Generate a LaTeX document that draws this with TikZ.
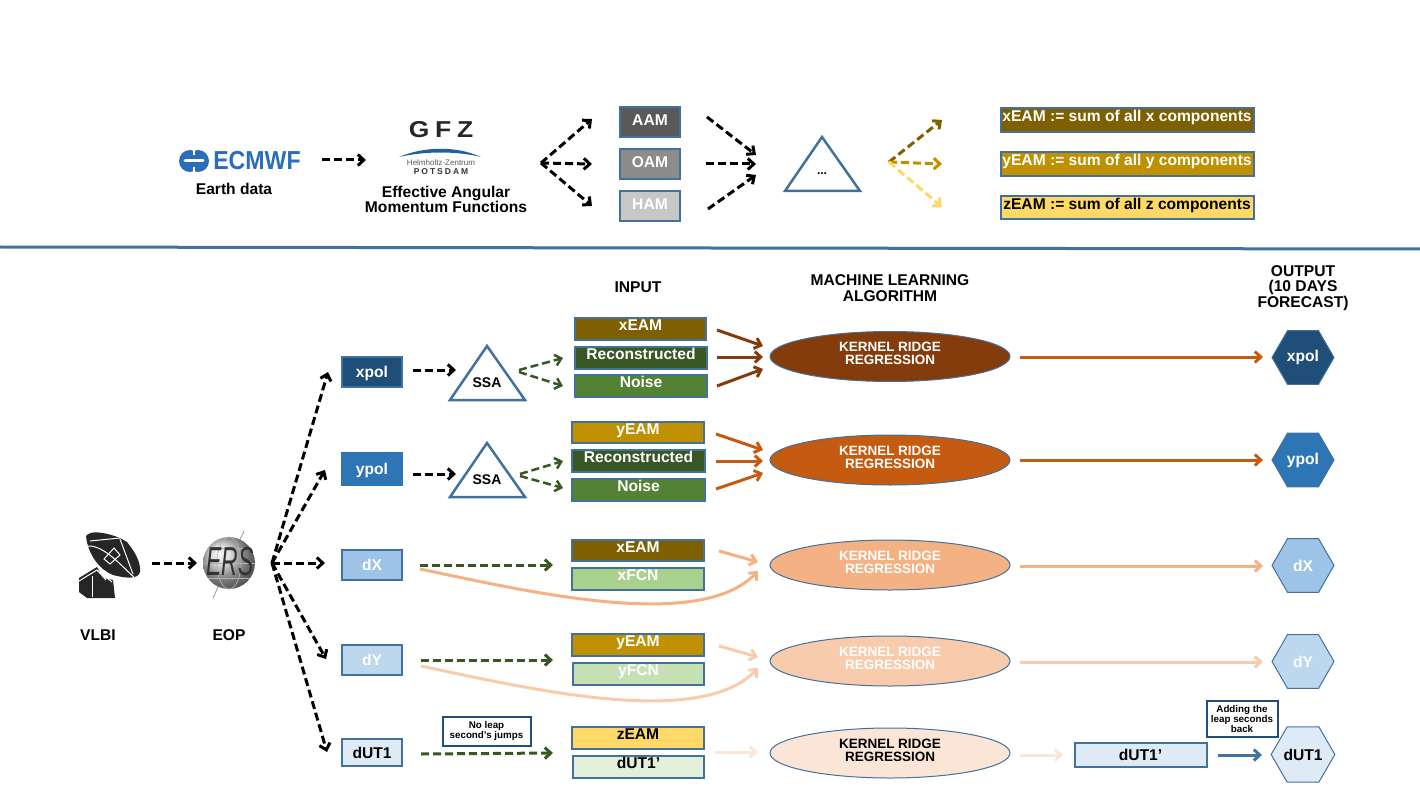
\documentclass[tikz,border=0pt]{standalone}
\usepackage{fontspec}
\setmainfont{Liberation Sans}
\usetikzlibrary{arrows.meta,shapes.geometric}
\definecolor{blueline}{HTML}{41719C}
\definecolor{navy}{HTML}{1F4E79}
\definecolor{midblue}{HTML}{2E75B6}
\definecolor{softblue}{HTML}{9DC3E6}
\definecolor{paleblue}{HTML}{BDD7EE}
\definecolor{iceblue}{HTML}{DEEBF7}
\definecolor{ambdark}{HTML}{7F6000}
\definecolor{ambmid}{HTML}{BF9000}
\definecolor{amblight}{HTML}{FFD966}
\definecolor{grndark}{HTML}{385723}
\definecolor{grnmid}{HTML}{548235}
\definecolor{grnsoft}{HTML}{A9D18E}
\definecolor{grnpale}{HTML}{C5E0B4}
\definecolor{grnice}{HTML}{E2F0D9}
\definecolor{rust}{HTML}{843C0C}
\definecolor{orng}{HTML}{C55A11}
\definecolor{orngsoft}{HTML}{F4B183}
\definecolor{orngpale}{HTML}{F8CBAD}
\definecolor{orngice}{HTML}{FBE5D6}
\definecolor{logoblue}{HTML}{2A6EBB}
\tikzset{
  txt/.style={font=\fontsize{15.6}{15.5}\selectfont\bfseries,align=center,inner sep=0pt},
  smalltxt/.style={font=\fontsize{9.8}{10}\selectfont\bfseries,align=center,inner sep=0pt},
  box/.style={draw=blueline,line width=2pt,rectangle,outer sep=0pt,inner sep=0pt,txt,text=white,text height=11pt,text depth=0pt},
  rbox/.style={box,text height=11pt,text depth=8pt},
  mbox/.style={box,text height=11pt,text depth=4pt},
  note/.style={draw=navy,fill=white,line width=2pt,rectangle,outer sep=0pt,smalltxt},
  krr/.style={ellipse,draw=blueline,line width=1pt,minimum width=240pt,minimum height=50pt,inner sep=0pt,
    font=\fontsize{13.5}{13}\selectfont\bfseries,align=center,text=white,text depth=5.5pt},
  hex/.style={regular polygon,regular polygon sides=6,draw=blueline,line width=1pt,minimum size=62pt,inner sep=0pt,txt,text=white},
  tri/.style={draw=blueline,line width=2.5pt,line join=miter},
  dasharrow/.style={line width=3pt,dash pattern=on 8pt off 4pt,-{Straight Barb[length=6pt,width=11pt]}},
  solidarrow/.style={line width=3pt,-{Straight Barb[length=6pt,width=11pt]}},
}
\begin{document}
\begin{tikzpicture}[x=1pt,y=-1pt]
      \useasboundingbox (0,0) rectangle (1420,799);
      % top row: logos
      \fill [logoblue] (190,161) circle [radius=11];
      \fill [logoblue] (198,161) circle [radius=11];
      \draw [white,line width=2pt] (194,149)--(194,155);
      \draw [white,line width=2pt] (194,167)--(194,173);
      \draw [white,line width=3pt,line cap=round] (185,161)--(203,161);
      \node (ecmwf) at (257,161) [font=\fontsize{26}{26}\selectfont\bfseries,text=logoblue,inner sep=0pt,xscale=0.89] {ECMWF};
      \node (earth) at (234,189) [txt] {Earth data};
      \node (gfz) at (441,130) [font=\fontsize{23}{23}\selectfont\bfseries,text=black!85,inner sep=0pt,xscale=1.15] {G\hspace{5pt}F\hspace{5pt}Z};
      \fill [logoblue!85!black] (399,157) .. controls (425,146) and (457,146) .. (481,157) .. controls (457,151) and (425,151) .. (399,157) -- cycle;
      \node (helm) at (441,163) [font=\fontsize{8}{8}\selectfont,text=black!65,inner sep=0pt] {Helmholtz-Zentrum};
      \node (pots) at (441,172) [font=\fontsize{8.5}{8}\selectfont\bfseries,text=black!80,inner sep=0pt] {P\hspace{2pt}O\hspace{2pt}T\hspace{2pt}S\hspace{2pt}D\hspace{2pt}A\hspace{2pt}M};
      \node (eam) at (446,199.5) [txt] {Effective Angular\\Momentum Functions};
      \coordinate (ecout) at (322,160);
      \coordinate (gfzin) at (366,160);
      \draw [dasharrow](ecout)--(gfzin);
      % top row: components
      \node (aam) at (650,122) [mbox,fill=black!65,minimum width=60.5pt,minimum height=30.5pt] {AAM};
      \node (oam) at (650,164) [mbox,fill=black!45,minimum width=60.5pt,minimum height=30.5pt] {OAM};
      \node (ham) at (650,206) [mbox,fill=black!22,minimum width=60.5pt,minimum height=30.5pt] {HAM};
      \coordinate (fan) at (541,163);
      \coordinate (aamin) at (592,119);
      \coordinate (oamin) at (592,164);
      \coordinate (hamin) at (592,206);
      \draw [dasharrow](fan)--(aamin);
      \draw [dasharrow](fan)--(oamin);
      \draw [dasharrow](fan)--(hamin);
      \coordinate (aamout) at (707,117);
      \coordinate (oamout) at (706,164);
      \coordinate (hamout) at (708,209);
      \coordinate (sumup) at (756,155);
      \coordinate (summid) at (756,164);
      \coordinate (sumlow) at (756,175);
      \draw [dasharrow](aamout)--(sumup);
      \draw [dasharrow](oamout)--(summid);
      \draw [dasharrow](hamout)--(sumlow);
      \node (sum) at (822,174) [font=\fontsize{12}{12}\selectfont\bfseries,inner sep=0pt] {...};
      \draw [tri] (822,137)--(785,191)--(860,191)--cycle;
      \coordinate (sumout) at (889,162);
      \coordinate (xin) at (942,120);
      \coordinate (yin) at (942,164);
      \coordinate (zin) at (942,207);
      \draw [dasharrow,ambdark](sumout)--(xin);
      \draw [dasharrow,ambmid](sumout)--(yin);
      \draw [dasharrow,amblight](sumout)--(zin);
      \node (xsum) at (1127,120.5) [rbox,fill=ambdark,minimum width=253pt,minimum height=24pt] {xEAM := sum of all x components};
      \node (ysum) at (1127,164.5) [rbox,fill=ambmid,minimum width=253pt,minimum height=24pt] {yEAM := sum of all y components};
      \node (zsum) at (1127,208) [rbox,fill=amblight,text=black,minimum width=253pt,minimum height=23pt] {zEAM := sum of all z components};
      \coordinate (sepleft) at (0,247);
      \coordinate (sepright) at (1420,249);
      \draw [blueline,line width=3pt](sepleft)--(sepright);
      % headers
      \node (input) at (638,287) [txt] {INPUT};
      \node (ml) at (890,288) [txt] {MACHINE LEARNING\\ALGORITHM};
      \node (output) at (1303,288) [txt] {OUTPUT\\(10 DAYS\\FORECAST)};
      % VLBI dish
      \fill [black!85] (86,536) .. controls (90,530) and (105,532) .. (120,538) -- (127,542) .. controls (135,552) and (141,562) .. (140,572) .. controls (138,580) and (125,578) .. (113,575) .. controls (100,570) and (88,555) .. (86,536) -- cycle;
      \fill [black!85] (79,578)--(97,567)--(104,578)--(113,580)--(115,598)--(87,598)--(79,592)--cycle;
      \draw [white,line width=1pt] (88,546) .. controls (105,545) and (125,570) .. (134,577);
      \draw [white,line width=1pt] (90,541)--(120,538);
      \draw [white,line width=1pt] (120,539)--(133,574);
      \draw [white,line width=1pt] (104,559)--(114,548)--(120,555)--(110,564)--cycle;
      \draw [white,line width=1pt] (79,581)--(97,570)--(112,582);
      \draw [white,line width=1pt] (92,597)--(92,576);
      \draw [white,line width=1pt] (97,570)--(106,580);
      \node (vlbi) at (98,635) [txt] {VLBI};
      % EOP globe
      \coordinate (axtop) at (244,531);
      \coordinate (axlow) at (213,598);
      \draw [black!35,line width=1pt](axtop)--(axlow);
      \shade [ball color=black!18] (229,563) circle [radius=26];
      \draw [black!30,line width=0.7pt] (229,563) ellipse [x radius=12,y radius=26];
      \draw [black!30,line width=0.7pt] (203,563)--(255,563);
      \draw [black!30,line width=0.7pt] (208,548)--(250,548);
      \draw [black!30,line width=0.7pt] (208,578)--(250,578);
      \node (ers) at (230,562) [font=\fontsize{27}{27}\selectfont\itshape,text=black!80,inner sep=0pt,xscale=0.85,yscale=1.5] {ERS};
      \node (eop) at (229,635) [txt] {EOP};
      \coordinate (vlbiout) at (152,563);
      \coordinate (eopin) at (197,563);
      \draw [dasharrow](vlbiout)--(eopin);
      % series
      \node (xpol) at (372,372) [box,fill=navy,minimum width=60.5pt,minimum height=30.5pt] {xpol};
      \node (ypol) at (372,469) [box,fill=midblue,draw=midblue,minimum width=60.5pt,minimum height=32.5pt] {ypol};
      \node (dx) at (372,565) [box,fill=softblue,minimum width=60.5pt,minimum height=30.5pt] {dX};
      \node (dy) at (372,660) [box,fill=paleblue,minimum width=60.5pt,minimum height=30.5pt] {dY};
      \node (dut) at (372,752.5) [box,fill=iceblue,text=black,minimum width=60.5pt,minimum height=27.5pt] {dUT1};
      \coordinate (eopout) at (272,563);
      \coordinate (xpolin) at (328,372);
      \coordinate (ypolin) at (325,470);
      \coordinate (dxin) at (325,563);
      \coordinate (dyin) at (326,659);
      \coordinate (dutin) at (327,752);
      \draw [dasharrow](eopout)--(xpolin);
      \draw [dasharrow](eopout)--(ypolin);
      \draw [dasharrow](eopout)--(dxin);
      \draw [dasharrow](eopout)--(dyin);
      \draw [dasharrow](eopout)--(dutin);
      % SSA
      \node (ssa1) at (487,383) [txt,font=\fontsize{14}{14}\selectfont\bfseries] {SSA};
      \draw [tri] (487,346)--(450,400)--(525,400)--cycle;
      \node (ssa2) at (487,480) [txt,font=\fontsize{14}{14}\selectfont\bfseries] {SSA};
      \draw [tri] (487,443)--(450,497)--(525,497)--cycle;
      \coordinate (xpolout) at (413,370);
      \coordinate (ssa1in) at (456,370);
      \coordinate (ypolout) at (413,474);
      \coordinate (ssa2in) at (456,474);
      \draw [dasharrow](xpolout)--(ssa1in);
      \draw [dasharrow](ypolout)--(ssa2in);
      \coordinate (ssa1up) at (519,370);
      \coordinate (ssa1lo) at (519,372);
      \coordinate (rec1in) at (563,358);
      \coordinate (noi1in) at (563,386);
      \coordinate (ssa2up) at (520,474);
      \coordinate (ssa2lo) at (520,476);
      \coordinate (rec2in) at (563,461);
      \coordinate (noi2in) at (563,488);
      \draw [dasharrow,grndark,line width=2.5pt](ssa1up)--(rec1in);
      \draw [dasharrow,grndark,line width=2.5pt](ssa1lo)--(noi1in);
      \draw [dasharrow,grndark,line width=2.5pt](ssa2up)--(rec2in);
      \draw [dasharrow,grndark,line width=2.5pt](ssa2lo)--(noi2in);
      % inputs
      \node (xeam1) at (640.5,329) [rbox,fill=ambdark,minimum width=131.5pt,minimum height=22.5pt] {xEAM};
      \node (rec1) at (641,358) [rbox,fill=grndark,minimum width=132.5pt,minimum height=22.5pt] {Reconstructed};
      \node (noi1) at (641,386) [rbox,fill=grnmid,minimum width=132.5pt,minimum height=22.5pt] {Noise};
      \node (yeam1) at (638,432.5) [rbox,fill=ambmid,minimum width=131.5pt,minimum height=21.5pt] {yEAM};
      \node (rec2) at (638.5,461) [rbox,fill=grndark,minimum width=132.5pt,minimum height=22.5pt] {Reconstructed};
      \node (noi2) at (638.5,490) [rbox,fill=grnmid,minimum width=132.5pt,minimum height=22.5pt] {Noise};
      \node (xeam2) at (638,550.5) [rbox,fill=ambdark,minimum width=131.5pt,minimum height=21.5pt] {xEAM};
      \node (xfcn) at (638,579) [rbox,fill=grnsoft,minimum width=131.5pt,minimum height=22.5pt] {xFCN};
      \node (yeam2) at (638,645) [rbox,fill=ambmid,minimum width=131.5pt,minimum height=22.5pt] {yEAM};
      \node (yfcn) at (638.5,674) [rbox,fill=grnpale,minimum width=131.5pt,minimum height=22.5pt] {yFCN};
      \node (zeam) at (638,738) [rbox,fill=amblight,text=black,minimum width=131.5pt,minimum height=22.5pt] {zEAM};
      \node (dutp) at (638.5,767) [rbox,fill=grnice,text=black,minimum width=131.5pt,minimum height=22.5pt] {dUT1'};
      \coordinate (dxout) at (420,565);
      \coordinate (xeamin) at (553,565);
      \coordinate (dyout) at (421,660);
      \coordinate (yeamin) at (553,660);
      \coordinate (dutout) at (421,754);
      \coordinate (zeamin) at (553,753);
      \draw [dasharrow,grndark](dxout)--(xeamin);
      \draw [dasharrow,grndark](dyout)--(yeamin);
      \draw [dasharrow,grndark](dutout)--(zeamin);
      \node (noleap) at (486.5,731) [note,minimum width=88pt,minimum height=29pt] {No leap\\second's jumps};
      % kernel ridge regression
      \node (krr1) at (890,356.5) [krr,fill=rust] {KERNEL RIDGE\\REGRESSION};
      \node (krr2) at (890,460) [krr,fill=orng] {KERNEL RIDGE\\REGRESSION};
      \node (krr3) at (890,565) [krr,fill=orngsoft] {KERNEL RIDGE\\REGRESSION};
      \node (krr4) at (890,661) [krr,fill=orngpale] {KERNEL RIDGE\\REGRESSION};
      \node (krr5) at (890,753) [krr,fill=orngice,text=black] {KERNEL RIDGE\\REGRESSION};
      \coordinate (a1) at (717,330);
      \coordinate (b1) at (763,346);
      \coordinate (a2) at (717,357);
      \coordinate (b2) at (763,357);
      \coordinate (a3) at (717,386);
      \coordinate (b3) at (763,369);
      \draw [solidarrow,rust](a1)--(b1);
      \draw [solidarrow,rust](a2)--(b2);
      \draw [solidarrow,rust](a3)--(b3);
      \coordinate (c1) at (716,434);
      \coordinate (d1) at (763,450);
      \coordinate (c2) at (716,461);
      \coordinate (d2) at (763,461);
      \coordinate (c3) at (716,489);
      \coordinate (d3) at (763,473);
      \draw [solidarrow,orng](c1)--(d1);
      \draw [solidarrow,orng](c2)--(d2);
      \draw [solidarrow,orng](c3)--(d3);
      \coordinate (e1) at (719,551);
      \coordinate (f1) at (758,562);
      \coordinate (e2) at (420,569);
      \coordinate (f2) at (758,571);
      \draw [solidarrow,orngsoft](e1)--(f1);
      \draw [solidarrow,orngsoft](e2) .. controls (530,592) and (700,632) .. (f2);
      \coordinate (g1) at (719,646);
      \coordinate (h1) at (758,657);
      \coordinate (g2) at (421,666);
      \coordinate (h2) at (758,668);
      \draw [solidarrow,orngpale](g1)--(h1);
      \draw [solidarrow,orngpale](g2) .. controls (530,689) and (700,729) .. (h2);
      \coordinate (k1) at (715,752);
      \coordinate (l1) at (758,752);
      \draw [solidarrow,orngice](k1)--(l1);
      % outputs
      \node (hex1) at (1303,357.5) [hex,fill=navy] {xpol};
      \node (hex2) at (1303,460) [hex,fill=midblue] {ypol};
      \node (hex3) at (1303,565.5) [hex,fill=softblue] {dX};
      \node (hex4) at (1303,661.5) [hex,fill=paleblue] {dY};
      \node (hex5) at (1303,754.5) [hex,fill=iceblue,text=black] {dUT1};
      \coordinate (m1) at (1020,357);
      \coordinate (n1) at (1263,357);
      \coordinate (m2) at (1020,460);
      \coordinate (n2) at (1263,460);
      \coordinate (m3) at (1020,566);
      \coordinate (n3) at (1263,566);
      \coordinate (m4) at (1020,662);
      \coordinate (n4) at (1263,662);
      \coordinate (m5) at (1020,755);
      \coordinate (n5) at (1063,755);
      \draw [solidarrow,orng](m1)--(n1);
      \draw [solidarrow,orng](m2)--(n2);
      \draw [solidarrow,orngsoft](m3)--(n3);
      \draw [solidarrow,orngpale](m4)--(n4);
      \draw [solidarrow,orngice](m5)--(n5);
      \node (dutq) at (1140.5,754.5) [box,fill=iceblue,text=black,minimum width=132pt,minimum height=24pt] {dUT1'};
      \coordinate (backout) at (1218,755);
      \coordinate (backin) at (1262,755);
      \draw [solidarrow,blueline](backout)--(backin);
      \node (adding) at (1242,718.5) [note,minimum width=71pt,minimum height=36pt] {Adding the\\leap seconds\\back};
\end{tikzpicture}
\end{document}
